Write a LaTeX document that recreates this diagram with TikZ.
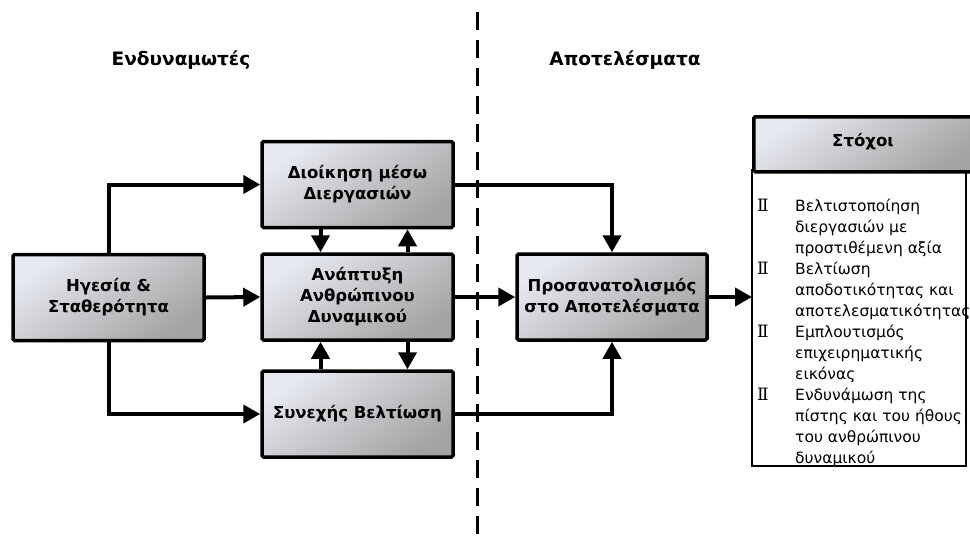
\documentclass[tikz,border=0pt]{standalone}
\usepackage{fontspec}
\setmainfont{DejaVu Sans}
\newfontfamily\bulletfont{DejaVu Serif}
\usetikzlibrary{arrows.meta}

\definecolor{boxlight}{HTML}{E6E9F0}
\definecolor{boxdark}{HTML}{A4A4A4}

\tikzset{
  stage/.style={draw=black, line width=3.5pt, rounded corners=1.5pt,
    top color=boxlight, bottom color=boxdark, shading angle=35,
    minimum width=191pt, minimum height=86pt, inner sep=0pt,
    align=center, font=\bfseries\fontsize{16.5}{21}\selectfont},
  heading/.style={font=\bfseries\fontsize{18.5}{20}\selectfont, inner sep=0pt},
  flow/.style={line width=4pt, -{Triangle[length=17pt,width=18pt]}},
  listline/.style={anchor=base west, inner sep=0pt, font=\fontsize{15.5}{21}\selectfont},
  listmark/.style={anchor=base west, inner sep=0pt, font=\bulletfont\fontsize{17}{21}\selectfont},
}

\begin{document}
\begin{tikzpicture}[x=1pt, y=-1pt]
\useasboundingbox (0,0) rectangle (970,542);
\clip (0,0) rectangle (970,542);
\fill[white] (0,0) rectangle (970,542);

% divider between enablers and results
\draw[line width=3pt, dash pattern=on 18pt off 10pt] (477,12) coordinate (divtop) -- (477,545) coordinate (divbot);

% column headings
\node[heading] (hEnablers) at (181,60) {Ενδυναμωτές};
\node[heading] (hResults) at (625,60) {Αποτελέσματα};

% enabler boxes
\node[stage] (lead) at (108.5,297.5) {Ηγεσία \&\\Σταθερότητα};
\node[stage] (proc) at (357.5,184.5) {Διοίκηση μέσω\\Διεργασιών};
\node[stage] (people) at (357.5,297) {Ανάπτυξη\\Ανθρώπινου\\Δυναμικού};
\node[stage] (improve) at (357.5,414) {Συνεχής Βελτίωση};

% results box
\node[stage, minimum width=190pt] (orient) at (612,297) {Προσανατολισμός\\στο Αποτελέσματα};

% goals panel
\draw[line width=1.5pt] (752,170) rectangle (966,466);
\node[stage, anchor=north west, minimum width=225pt, minimum height=55pt] (goals) at (752,115) {};
\node[font=\bfseries\fontsize{16.5}{21}\selectfont, inner sep=0pt] (goalsTitle) at (863,142) {Στόχοι};
\coordinate (goalsIn) at (752,297);

% goal list
\foreach \t [count=\i from 0] in {Βελτιστοποίηση, διεργασιών με, προστιθέμενη αξία,
    Βελτίωση, αποδοτικότητας και, αποτελεσματικότητας,
    Εμπλουτισμός, επιχειρηματικής, εικόνας,
    Ενδυνάμωση της, πίστης και του ήθους, του ανθρώπινου, δυναμικού}
  \node[listline] (goalLine\i) at (795,{211+21.08*\i}) {\t};
\foreach \i in {0,3,6,9}
  \node[listmark] (goalMark\i) at (757,{211+21.08*\i}) {Ⅱ};

% connectors from leadership
\draw[flow] (lead.north) |- (proc.west);
\draw[flow] (lead.east) -- (people.west);
\draw[flow] (lead.south) |- (improve.west);

% exchanges between enabler boxes
\draw[flow] ([xshift=-37pt]proc.south) -- ([xshift=-37pt]people.north);
\draw[flow] ([xshift=50pt]people.north) -- ([xshift=50pt]proc.south);
\draw[flow] ([xshift=-37pt]improve.north) -- ([xshift=-37pt]people.south);
\draw[flow] ([xshift=50pt]people.south) -- ([xshift=50pt]improve.north);

% enablers feeding results
\draw[flow] (proc.east) -| (orient.north);
\draw[flow] (people.east) -- (orient.west);
\draw[flow] (improve.east) -| (orient.south);

% results to goals
\draw[flow] (orient.east) -- (goalsIn);
\end{tikzpicture}
\end{document}
